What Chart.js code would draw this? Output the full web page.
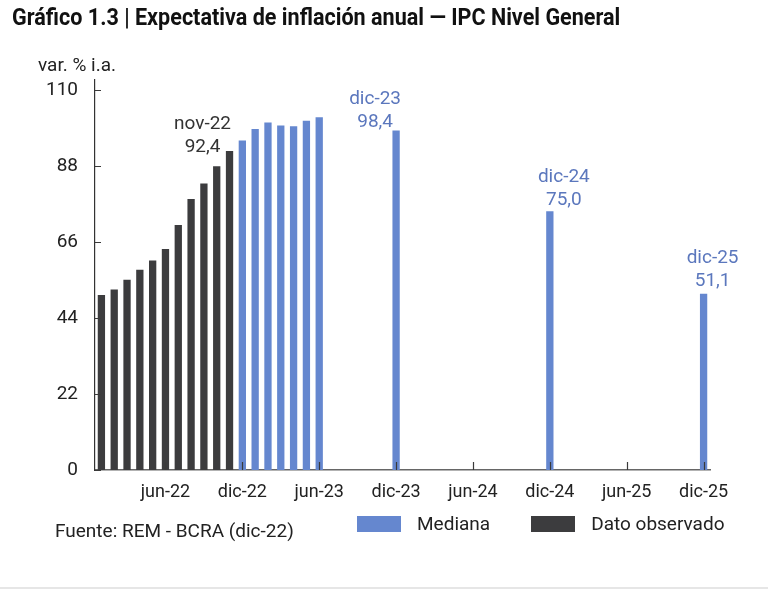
<!DOCTYPE html>
<html>
<head>
<meta charset="utf-8">
<script src="https://cdn.jsdelivr.net/npm/chart.js@4.4.1/dist/chart.umd.min.js"></script>
<style>
html,body{margin:0;padding:0;background:#fff;}
#wrap{position:relative;width:768px;height:593px;overflow:hidden;font-family:Roboto,"Noto Sans",sans-serif;color:#222;background:#fff;}
#chart{position:absolute;left:0;top:0;}
.txt{position:absolute;line-height:1;white-space:nowrap;}
#title{left:12px;top:6px;font-weight:700;font-size:23.5px;color:#111;transform-origin:0 0;}
#unit{left:38px;top:55px;font-size:19px;}
#source{left:55px;top:521px;font-size:19px;}
#legend{position:absolute;left:357px;top:514px;width:420px;display:flex;align-items:center;font-size:19px;line-height:1;white-space:nowrap;}
.item{display:flex;align-items:center;margin-right:41px;flex:none;}
.sw{width:44px;height:16px;margin-right:16px;flex:none;}
#rule{position:absolute;left:0;width:768px;top:587px;height:2px;background:#e6e6e6;}
</style>
</head>
<body>
<div id="wrap">
  <canvas id="chart" width="768" height="593"></canvas>
  <div id="title" class="txt">Gráfico 1.3 | Expectativa de inflación anual — IPC Nivel General</div>
  <div id="unit" class="txt">var. % i.a.</div>
  <div id="source" class="txt">Fuente: REM - BCRA (dic-22)</div>
  <div id="legend"></div>
  <div id="rule"></div>
</div>
<script>
// ---- data ----
const categories = [
  'ene-22','feb-22','mar-22','abr-22','may-22','jun-22','jul-22','ago-22','sep-22','oct-22','nov-22','dic-22',
  'ene-23','feb-23','mar-23','abr-23','may-23','jun-23','jul-23','ago-23','sep-23','oct-23','nov-23','dic-23',
  'ene-24','feb-24','mar-24','abr-24','may-24','jun-24','jul-24','ago-24','sep-24','oct-24','nov-24','dic-24',
  'ene-25','feb-25','mar-25','abr-25','may-25','jun-25','jul-25','ago-25','sep-25','oct-25','nov-25','dic-25'
];
const tickLabels = ['jun-22','dic-22','jun-23','dic-23','jun-24','dic-24','jun-25','dic-25'];
const yTicks = [0, 22, 44, 66, 88, 110];

const observadoMeses = ['ene-22','feb-22','mar-22','abr-22','may-22','jun-22','jul-22','ago-22','sep-22','oct-22','nov-22'];
const observadoValores = [50.7, 52.3, 55.1, 58.0, 60.7, 64.0, 71.0, 78.5, 83.0, 88.0, 92.4];

const medianaMeses = ['dic-22','ene-23','feb-23','mar-23','abr-23','may-23','jun-23','dic-23','dic-24','dic-25'];
const medianaValores = [95.5, 98.8, 100.7, 99.8, 99.6, 101.2, 102.2, 98.4, 75.0, 51.1];

const seriesNames = ['Mediana', 'Dato observado'];
const annotatedMonths = ['nov-22', 'dic-23', 'dic-24', 'dic-25'];

// ---- styles ----
const BLUE = '#6587cf';
const DARK = '#3c3c3e';
const BLUE_TXT = '#5b77bd';
const DARK_TXT = '#333333';
const annotationStyle = {
  'nov-22': {dx: -27, dy: -4, color: DARK_TXT},
  'dic-23': {dx: -21, dy: -8, color: BLUE_TXT},
  'dic-24': {dx: 14, dy: -11, color: BLUE_TXT},
  'dic-25': {dx: 9, dy: -12, color: BLUE_TXT}
};

// title condensed to reference width
const t = document.getElementById('title');
t.style.transform = 'scaleX(' + (608 / t.offsetWidth) + ')';

// legend from datasets
const legendEl = document.getElementById('legend');
[[seriesNames[0], BLUE], [seriesNames[1], DARK]].forEach(([name, col]) => {
  const it = document.createElement('div'); it.className = 'item';
  const sw = document.createElement('div'); sw.className = 'sw'; sw.style.background = col;
  const tx = document.createElement('span'); tx.textContent = name;
  it.appendChild(sw); it.appendChild(tx); legendEl.appendChild(it);
});

const fmt = v => v.toFixed(1).replace('.', ',');

const overlay = {
  id: 'overlay',
  afterDraw(chart) {
    const {ctx, scales: {x, y}} = chart;
    ctx.save();
    ctx.strokeStyle = '#3a3a3a';
    ctx.lineWidth = 1.2;
    ctx.beginPath();
    tickLabels.forEach(l => {
      const px = Math.round(x.getPixelForValue(categories.indexOf(l))) + 0.5;
      ctx.moveTo(px, y.bottom);
      ctx.lineTo(px, y.bottom - 8);
    });
    yTicks.forEach(v => {
      const py = Math.round(y.getPixelForValue(v)) + 0.5;
      ctx.moveTo(x.left, py);
      ctx.lineTo(x.left + 6, py);
    });
    ctx.stroke();

    ctx.font = '19px Roboto, "Noto Sans", sans-serif';
    ctx.textAlign = 'center';
    ctx.textBaseline = 'middle';
    annotatedMonths.forEach(m => {
      let v;
      const oi = observadoMeses.indexOf(m);
      if (oi >= 0) v = observadoValores[oi]; else v = medianaValores[medianaMeses.indexOf(m)];
      const st = annotationStyle[m];
      const px = x.getPixelForValue(categories.indexOf(m)) + st.dx;
      const py = y.getPixelForValue(v) + st.dy;
      ctx.fillStyle = st.color;
      ctx.fillText(m, px, py - 23);
      ctx.fillText(fmt(v), px, py);
    });
    ctx.restore();
  }
};

new Chart(document.getElementById('chart').getContext('2d'), {
  type: 'bar',
  data: {
    labels: categories,
    datasets: [
      {
        label: seriesNames[0],
        data: medianaMeses.map((m, i) => ({x: m, y: medianaValores[i]})),
        backgroundColor: BLUE
      },
      {
        label: seriesNames[1],
        data: observadoMeses.map((m, i) => ({x: m, y: observadoValores[i]})),
        backgroundColor: DARK
      }
    ]
  },
  options: {
    responsive: false,
    animation: false,
    devicePixelRatio: 1,
    layout: {padding: {top: 80, right: 58, left: 0, bottom: 83}},
    datasets: {bar: {grouped: false, categoryPercentage: 1, barPercentage: 0.57}},
    plugins: {legend: {display: false}, tooltip: {enabled: false}},
    scales: {
      x: {
        type: 'category',
        grid: {display: false, drawTicks: false},
        border: {display: true, color: '#666', width: 1.5},
        ticks: {
          autoSkip: false, maxRotation: 0, minRotation: 0, padding: 12,
          color: '#222', font: {size: 18, family: 'Roboto'},
          callback: (val, i) => tickLabels.includes(categories[i]) ? categories[i] : ''
        },
        afterFit: s => { s.height = 40; }
      },
      y: {
        min: 0, max: 113,
        afterBuildTicks: s => { s.ticks = yTicks.map(v => ({value: v})); },
        grid: {display: false, drawTicks: false},
        border: {display: true, color: '#333', width: 1.2},
        ticks: {padding: 17, color: '#222', font: {size: 19, family: 'Roboto'}},
        afterFit: s => { s.width = 95; }
      }
    }
  },
  plugins: [overlay]
});
</script>
</body>
</html>
